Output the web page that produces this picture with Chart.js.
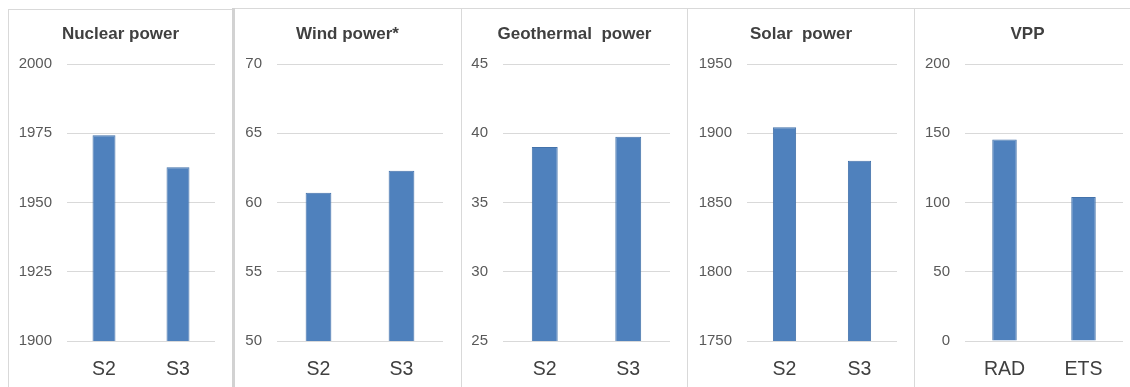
<!DOCTYPE html>
<html>
<head>
<meta charset="utf-8">
<script src="https://cdn.jsdelivr.net/npm/chart.js@4"></script>
<style>
  html, body { margin: 0; padding: 0; background: #ffffff; overflow: hidden; width: 1130px; height: 387px; }
  .line { position: absolute; background: #d9d9d9; }
  canvas { position: absolute; }
</style>
</head>
<body>
<div class="line" style="left:8px;top:9px;width:225px;height:1px;"></div>
<div class="line" style="left:235px;top:8px;width:895px;height:1px;"></div>
<div class="line" style="left:8px;top:9px;width:1px;height:378px;"></div>
<div class="line" style="left:232px;top:8px;width:3px;height:379px;background:#d2d2d2;"></div>
<div class="line" style="left:461px;top:8px;width:1px;height:379px;"></div>
<div class="line" style="left:687px;top:8px;width:1px;height:379px;"></div>
<div class="line" style="left:914px;top:8px;width:1px;height:379px;"></div>

<canvas id="c0" width="223" height="378" style="left:9px;top:9px;"></canvas>
<canvas id="c1" width="225" height="378" style="left:235px;top:9px;"></canvas>
<canvas id="c2" width="225" height="378" style="left:462px;top:9px;"></canvas>
<canvas id="c3" width="226" height="378" style="left:688px;top:9px;"></canvas>
<canvas id="c4" width="225" height="378" style="left:915px;top:9px;"></canvas>

<script>
// ---- data ----
const panelTitles = ['Nuclear power', 'Wind power*', 'Geothermal  power', 'Solar  power', 'VPP'];
const scenarioCategories = ['S2', 'S3'];
const vppCategories = ['RAD', 'ETS'];

const nuclearValues = [1974.3, 1962.7];
const windValues = [60.7, 62.3];
const geothermalValues = [39.0, 39.75];
const solarValues = [1904.3, 1880.2];
const vppValues = [145.4, 104.0];

const nuclearTicks = [1900, 1925, 1950, 1975, 2000];
const windTicks = [50, 55, 60, 65, 70];
const geothermalTicks = [25, 30, 35, 40, 45];
const solarTicks = [1750, 1800, 1850, 1900, 1950];
const vppTicks = [0, 50, 100, 150, 200];

// ---- layout (presentation only) ----
const yAxisWidths = [58, 42, 41, 59, 50];
const rightGap = 17;

const panels = [
  { labels: scenarioCategories, values: nuclearValues, ticks: nuclearTicks },
  { labels: scenarioCategories, values: windValues, ticks: windTicks },
  { labels: scenarioCategories, values: geothermalValues, ticks: geothermalTicks },
  { labels: scenarioCategories, values: solarValues, ticks: solarTicks },
  { labels: vppCategories, values: vppValues, ticks: vppTicks }
];

const fontFamily = '"Liberation Sans", Arial, sans-serif';

panels.forEach((p, i) => {
  const ctx = document.getElementById('c' + i);
  new Chart(ctx, {
    type: 'bar',
    data: {
      labels: p.labels,
      datasets: [{
        data: p.values,
        backgroundColor: '#4f81bd',
        borderColor: '#4372aa',
        borderWidth: 1,
        barPercentage: 0.31,
        categoryPercentage: 1.0
      }]
    },
    options: {
      responsive: false,
      animation: false,
      devicePixelRatio: 1,
      layout: { padding: 0 },
      plugins: {
        legend: { display: false },
        tooltip: { enabled: false },
        title: {
          display: true,
          text: panelTitles[i],
          color: '#404040',
          font: { family: fontFamily, size: 17, weight: 'bold', lineHeight: 1.2 },
          padding: { top: 15, bottom: 19.6 }
        }
      },
      scales: {
        x: {
          grid: { display: false, drawTicks: false },
          border: { display: false },
          ticks: {
            color: '#404040',
            padding: 17,
            font: { family: fontFamily, size: 19.5 }
          },
          afterFit: (scale) => { scale.height = 46; }
        },
        y: {
          min: p.ticks[0],
          max: p.ticks[p.ticks.length - 1],
          afterBuildTicks: (scale) => { scale.ticks = p.ticks.map(v => ({ value: v })); },
          grid: { color: '#d9d9d9', lineWidth: 1, drawTicks: false },
          border: { display: false },
          ticks: {
            color: '#595959',
            padding: 15,
            font: { family: fontFamily, size: 15 },
            callback: (v) => String(v)
          },
          afterFit: (scale) => { scale.width = yAxisWidths[i]; }
        },
        gap: {
          position: 'right',
          display: true,
          grid: { display: false, drawTicks: false },
          border: { display: false },
          ticks: { display: false },
          afterFit: (scale) => { scale.width = rightGap; }
        }
      }
    }
  });
});
</script>
</body>
</html>
